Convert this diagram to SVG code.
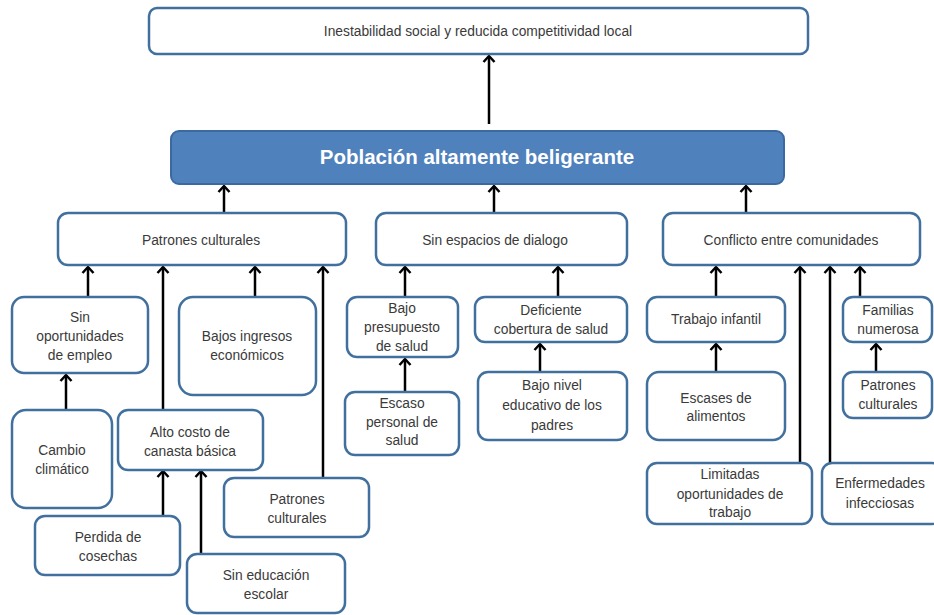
<svg xmlns="http://www.w3.org/2000/svg" width="934" height="615" viewBox="0 0 934 615">
<defs>
<style>
.box{fill:#ffffff;stroke:#41709f;stroke-width:2.5}
.main{fill:#4f81bd;stroke:#3a6a9f;stroke-width:2}
.t{font-family:"Liberation Sans",Arial,sans-serif;font-size:13.8px;fill:#3a3a3a;text-anchor:middle}
.tm{font-family:"Liberation Sans",Arial,sans-serif;font-size:20.5px;font-weight:bold;fill:#ffffff;text-anchor:middle}
.c{stroke:#000;stroke-width:2.5;fill:none}
</style>
<marker id="ah" markerUnits="userSpaceOnUse" markerWidth="14" markerHeight="14" viewBox="0 0 14 14" refX="11" refY="7" orient="auto">
<path d="M5,1.5 L11,7 L5,12.5" fill="none" stroke="#000" stroke-width="2.5"/>
</marker>
</defs>
<rect width="934" height="615" fill="#ffffff"/>
<g id="connectors">
<line class="c" x1="489" y1="124" x2="489" y2="56" marker-end="url(#ah)"/>
<line class="c" x1="224" y1="213" x2="224" y2="186" marker-end="url(#ah)"/>
<line class="c" x1="494" y1="213" x2="494" y2="186" marker-end="url(#ah)"/>
<line class="c" x1="746" y1="213" x2="746" y2="186" marker-end="url(#ah)"/>
<line class="c" x1="88" y1="297" x2="88" y2="267" marker-end="url(#ah)"/>
<line class="c" x1="163" y1="410" x2="163" y2="267" marker-end="url(#ah)"/>
<line class="c" x1="255" y1="297" x2="255" y2="267" marker-end="url(#ah)"/>
<line class="c" x1="323" y1="478" x2="323" y2="267" marker-end="url(#ah)"/>
<line class="c" x1="66" y1="410" x2="66" y2="375" marker-end="url(#ah)"/>
<line class="c" x1="163" y1="516" x2="163" y2="471" marker-end="url(#ah)"/>
<line class="c" x1="201" y1="554" x2="201" y2="471" marker-end="url(#ah)"/>
<line class="c" x1="405" y1="297" x2="405" y2="267" marker-end="url(#ah)"/>
<line class="c" x1="558" y1="297" x2="558" y2="267" marker-end="url(#ah)"/>
<line class="c" x1="405" y1="392" x2="405" y2="359" marker-end="url(#ah)"/>
<line class="c" x1="540" y1="372" x2="540" y2="344" marker-end="url(#ah)"/>
<line class="c" x1="716" y1="297" x2="716" y2="267" marker-end="url(#ah)"/>
<line class="c" x1="800" y1="463" x2="800" y2="267" marker-end="url(#ah)"/>
<line class="c" x1="830" y1="463" x2="830" y2="267" marker-end="url(#ah)"/>
<line class="c" x1="860" y1="297" x2="860" y2="267" marker-end="url(#ah)"/>
<line class="c" x1="716" y1="372" x2="716" y2="344" marker-end="url(#ah)"/>
<line class="c" x1="876" y1="372" x2="876" y2="344" marker-end="url(#ah)"/>
</g>
<g id="n-inestabilidad">
<rect class="box" x="149" y="8" width="659" height="46" rx="8"/>
<text class="t" x="478" y="36">Inestabilidad social y reducida competitividad local</text>
</g>
<g id="n-poblacion">
<rect class="main" x="171" y="131" width="613" height="53" rx="8"/>
<text class="tm" x="477" y="164">Población altamente beligerante</text>
</g>
<g id="n-patrones">
<rect class="box" x="58" y="213" width="288" height="52" rx="10"/>
<text class="t" x="201" y="245">Patrones culturales</text>
</g>
<g id="n-espacios">
<rect class="box" x="376" y="213" width="251" height="52" rx="10"/>
<text class="t" x="495" y="245">Sin espacios de dialogo</text>
</g>
<g id="n-conflicto">
<rect class="box" x="663" y="213" width="257" height="52" rx="10"/>
<text class="t" x="791" y="245">Conflicto entre comunidades</text>
</g>
<g id="n-sinoport">
<rect class="box" x="12" y="297" width="136" height="76" rx="12"/>
<text class="t" x="80" y="322">Sin</text>
<text class="t" x="80" y="341">oportunidades</text>
<text class="t" x="80" y="360">de empleo</text>
</g>
<g id="n-bajosingresos">
<rect class="box" x="179" y="297" width="137" height="98" rx="14"/>
<text class="t" x="247" y="341">Bajos ingresos</text>
<text class="t" x="247" y="360">económicos</text>
</g>
<g id="n-cambio">
<rect class="box" x="12" y="410" width="100" height="98" rx="14"/>
<text class="t" x="62" y="455">Cambio</text>
<text class="t" x="62" y="474">climático</text>
</g>
<g id="n-altocosto">
<rect class="box" x="118" y="410" width="145" height="60" rx="10"/>
<text class="t" x="190" y="437">Alto costo de</text>
<text class="t" x="190" y="456">canasta básica</text>
</g>
<g id="n-patrones2">
<rect class="box" x="224" y="478" width="145" height="59" rx="10"/>
<text class="t" x="297" y="504">Patrones</text>
<text class="t" x="297" y="523">culturales</text>
</g>
<g id="n-perdida">
<rect class="box" x="35" y="516" width="145" height="59" rx="10"/>
<text class="t" x="108" y="542">Perdida de</text>
<text class="t" x="108" y="561">cosechas</text>
</g>
<g id="n-sineducacion">
<rect class="box" x="187" y="554" width="158" height="59" rx="10"/>
<text class="t" x="266" y="580">Sin educación</text>
<text class="t" x="266" y="599">escolar</text>
</g>
<g id="n-bajopresupuesto">
<rect class="box" x="347" y="297" width="111" height="60" rx="10"/>
<text class="t" x="402" y="313">Bajo</text>
<text class="t" x="402" y="332">presupuesto</text>
<text class="t" x="402" y="351">de salud</text>
</g>
<g id="n-deficiente">
<rect class="box" x="475" y="297" width="152" height="45" rx="10"/>
<text class="t" x="551" y="315">Deficiente</text>
<text class="t" x="551" y="334">cobertura de salud</text>
</g>
<g id="n-escaso">
<rect class="box" x="345" y="392" width="114" height="63" rx="10"/>
<text class="t" x="402" y="408">Escaso</text>
<text class="t" x="402" y="427">personal de</text>
<text class="t" x="402" y="445">salud</text>
</g>
<g id="n-bajonivel">
<rect class="box" x="478" y="372" width="149" height="68" rx="10"/>
<text class="t" x="552" y="390">Bajo nivel</text>
<text class="t" x="552" y="410">educativo de los</text>
<text class="t" x="552" y="430">padres</text>
</g>
<g id="n-trabajo">
<rect class="box" x="647" y="297" width="138" height="45" rx="10"/>
<text class="t" x="716" y="324">Trabajo infantil</text>
</g>
<g id="n-familias">
<rect class="box" x="843" y="297" width="89" height="45" rx="10"/>
<text class="t" x="888" y="315">Familias</text>
<text class="t" x="888" y="334">numerosa</text>
</g>
<g id="n-escases">
<rect class="box" x="647" y="372" width="138" height="68" rx="12"/>
<text class="t" x="716" y="403">Escases de</text>
<text class="t" x="716" y="421">alimentos</text>
</g>
<g id="n-patrones3">
<rect class="box" x="843" y="372" width="89" height="46" rx="10"/>
<text class="t" x="888" y="390">Patrones</text>
<text class="t" x="888" y="409">culturales</text>
</g>
<g id="n-limitadas">
<rect class="box" x="647" y="463" width="165" height="61" rx="10"/>
<text class="t" x="730" y="479">Limitadas</text>
<text class="t" x="730" y="499">oportunidades de</text>
<text class="t" x="730" y="517">trabajo</text>
</g>
<g id="n-enfermedades">
<rect class="box" x="822" y="463" width="120" height="61" rx="10"/>
<text class="t" x="880" y="488">Enfermedades</text>
<text class="t" x="880" y="508">infecciosas</text>
</g>
</svg>
